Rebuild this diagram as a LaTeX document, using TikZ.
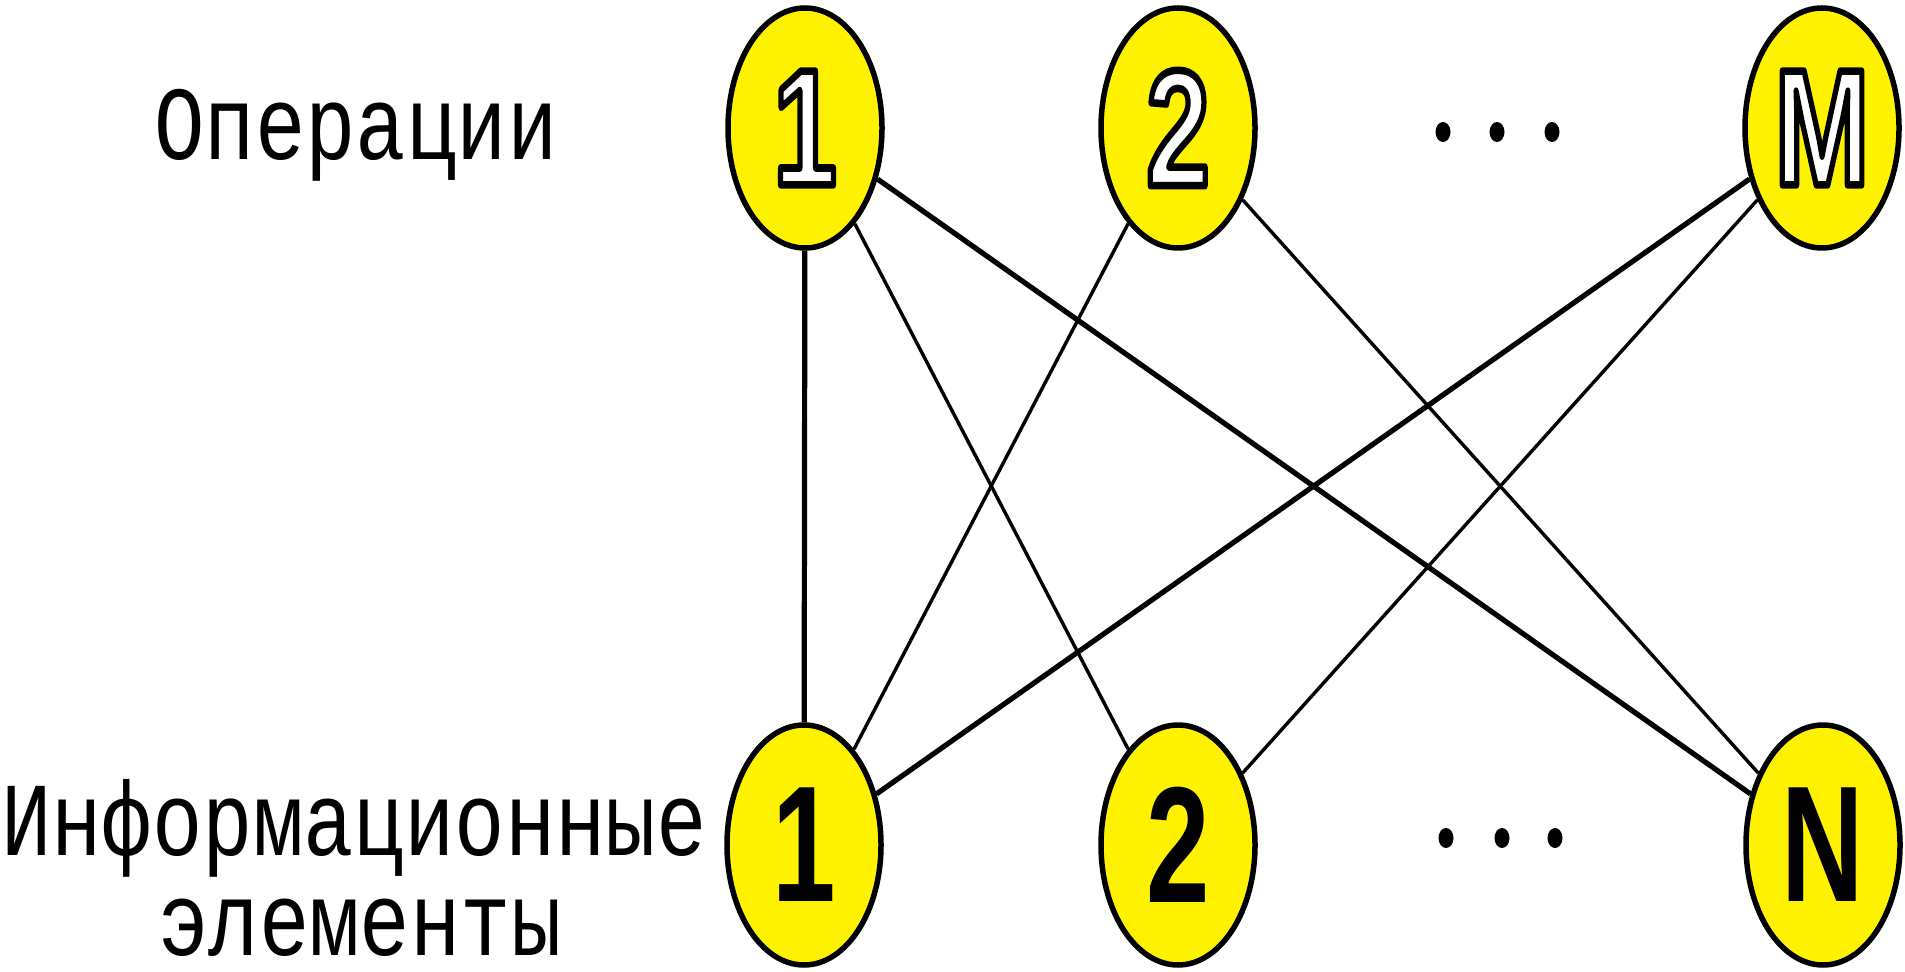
\documentclass[tikz,border=0pt]{standalone}
\usepackage{fontspec}
\usepackage{graphicx}
\usetikzlibrary{shapes.geometric,backgrounds}
\newfontfamily\labfont{Liberation Mono}
\newfontfamily\numfont{Liberation Sans}
\newcommand{\tallnum}[1]{\scalebox{1}[1.45]{#1}}
\newcommand{\outlinedtext}[1]{\special{pdf:code 2 Tr 0 G 2.6 w 1 j 1 J}#1\special{pdf:code 0 Tr 1 w 0 j 0 J}}
\begin{document}
\begin{tikzpicture}[x=0.5pt,y=-0.5pt,
  vert/.style={ellipse,draw=black,line width=2.75pt,fill=yellow,minimum width=77pt,minimum height=120pt,inner sep=0pt,
    font=\numfont\bfseries\fontsize{57}{57}\selectfont},
  opvert/.style={vert,text=white},
  lab/.style={anchor=base,inner sep=0pt,font=\labfont\fontsize{42}{42}\selectfont},
  thickedge/.style={line width=2.6pt},
  thinedge/.style={line width=1.7pt},
  dotmark/.style={ellipse,fill=black,minimum width=7.5pt,minimum height=10pt,inner sep=0pt}]
\useasboundingbox (0,0) rectangle (1905,972);

% labels
\node[lab] (ops) at (356,160) {\scalebox{1}[1.25]{Операции}};
\node[lab] (inf1) at (354,855) {\scalebox{1}[1.25]{Информационные}};
\node[lab] (inf2) at (360,955) {\scalebox{1}[1.25]{элементы}};

% operation nodes (white digits outlined in black)
\node[opvert] (t1) at (805,128) {\outlinedtext{\tallnum{1}}};
\node[opvert] (t2) at (1178,128) {\outlinedtext{\tallnum{2}}};
\node[opvert] (tm) at (1822,128) {\outlinedtext{\tallnum{M}}};
% information element nodes
\node[vert] (b1) at (804,845) {\tallnum{1}};
\node[vert] (b2) at (1178,845) {\tallnum{2}};
\node[vert] (bn) at (1823,845) {\tallnum{N}};

% ellipsis dots
\node[dotmark] (d1) at (1443,132) {};
\node[dotmark] (d2) at (1497,132) {};
\node[dotmark] (d3) at (1552,132) {};
\node[dotmark] (d4) at (1446,838) {};
\node[dotmark] (d5) at (1502,838) {};
\node[dotmark] (d6) at (1555,838) {};

% connectors
\begin{scope}[on background layer]
\fill[white] (0,0) rectangle (1905,972);
\draw[thickedge] (t1) -- (b1);
\draw[thickedge] (t1) -- (bn);
\draw[thickedge] (tm) -- (b1);
\draw[thinedge] (t1) -- (b2);
\draw[thinedge] (t2) -- (b1);
\draw[thinedge] (t2) -- (bn);
\draw[thinedge] (tm) -- (b2);
\end{scope}
\end{tikzpicture}
\end{document}
